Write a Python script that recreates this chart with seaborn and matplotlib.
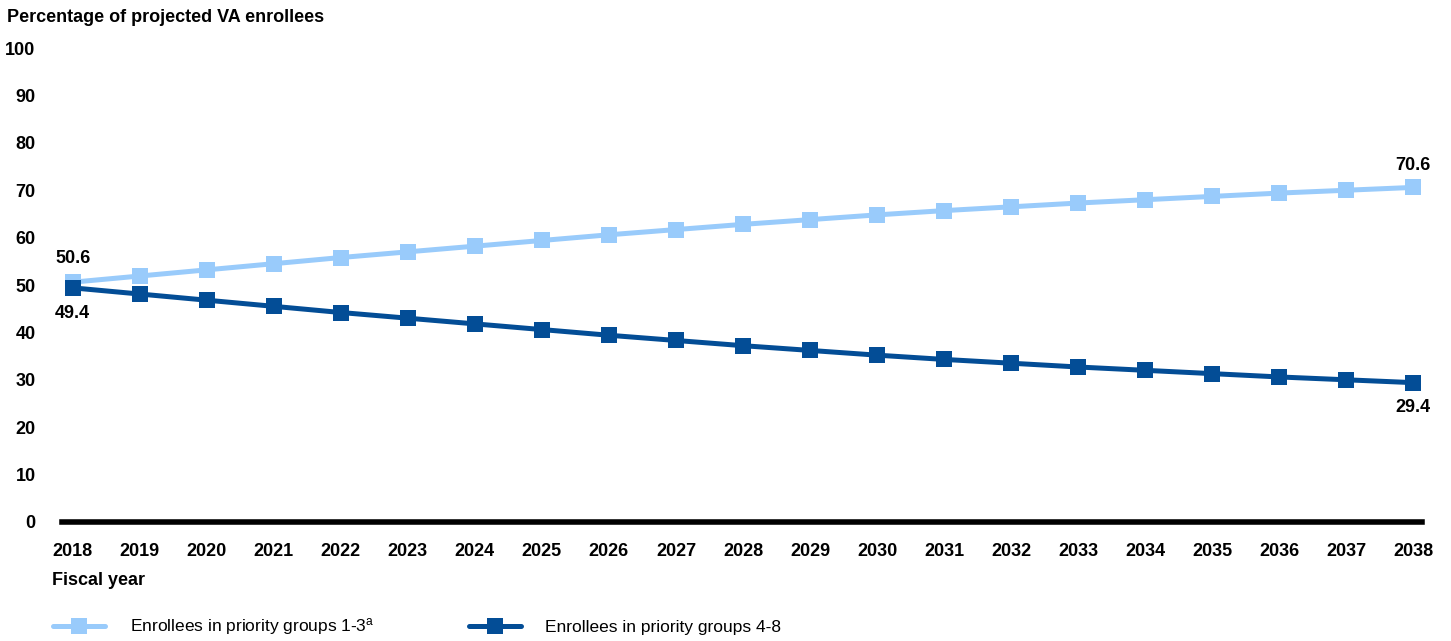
import pandas as pd
import matplotlib
matplotlib.use('Agg')
import matplotlib.pyplot as plt
import seaborn as sns
from matplotlib.lines import Line2D

# data
years = list(range(2018, 2039))
groups_1_3 = [50.6, 51.9, 53.2, 54.5, 55.8, 57.0, 58.2, 59.4, 60.6, 61.7, 62.8,
              63.8, 64.8, 65.7, 66.5, 67.3, 68.0, 68.7, 69.4, 70.0, 70.6]
groups_4_8 = [49.4, 48.1, 46.8, 45.5, 44.2, 43.0, 41.8, 40.6, 39.4, 38.3, 37.2,
              36.2, 35.2, 34.3, 33.5, 32.7, 32.0, 31.3, 30.6, 30.0, 29.4]
series_labels = ['Enrollees in priority groups 1-3$^{a}$', 'Enrollees in priority groups 4-8']
y_ticks = [0, 10, 20, 30, 40, 50, 60, 70, 80, 90, 100]

light_blue = '#99CBFB'
dark_blue = '#034D96'

df = pd.concat([
    pd.DataFrame({'year': years, 'pct': groups_1_3, 'group': series_labels[0]}),
    pd.DataFrame({'year': years, 'pct': groups_4_8, 'group': series_labels[1]}),
])

sns.set_style('white')
plt.rcParams['font.family'] = ['Liberation Sans', 'DejaVu Sans']
plt.rcParams['mathtext.default'] = 'regular'
plt.rcParams['text.color'] = 'black'
plt.rcParams['xtick.color'] = 'black'
plt.rcParams['ytick.color'] = 'black'

fig = plt.figure(figsize=(14.51, 6.41), dpi=100)
ax = fig.add_axes([0.0427, 0.1857, 0.9373, 0.7393])

sns.lineplot(data=df, x='year', y='pct', hue='group', style='group',
             palette=[light_blue, dark_blue], markers=['s', 's'], dashes=False,
             markersize=11.5, linewidth=3.6, markeredgewidth=0,
             legend=False, ax=ax)

ax.set_xlim(2017.84, 2038.13)
ax.set_ylim(0, 100)
ax.set_xticks(years)
ax.set_yticks(y_ticks)
ax.set_xlabel('')
ax.set_ylabel('')

for side in ['top', 'right', 'left']:
    ax.spines[side].set_visible(False)
ax.spines['bottom'].set_linewidth(4)
ax.spines['bottom'].set_color('black')
ax.tick_params(axis='both', length=0, labelsize=13)
ax.tick_params(axis='y', pad=19)
ax.tick_params(axis='x', pad=15)
for lab in ax.get_xticklabels() + ax.get_yticklabels():
    lab.set_fontweight('bold')

# end point labels
ax.annotate(f'{groups_1_3[0]}', (years[0], groups_1_3[0]), xytext=(0, 11),
            textcoords='offset points', ha='center', va='bottom',
            fontsize=13, fontweight='bold')
ax.annotate(f'{groups_4_8[0]}', (years[0], groups_4_8[0]), xytext=(0, -12),
            textcoords='offset points', ha='center', va='top',
            fontsize=13, fontweight='bold')
ax.annotate(f'{groups_1_3[-1]}', (years[-1], groups_1_3[-1]), xytext=(0, 10),
            textcoords='offset points', ha='center', va='bottom',
            fontsize=13, fontweight='bold')
ax.annotate(f'{groups_4_8[-1]}', (years[-1], groups_4_8[-1]), xytext=(0, -12),
            textcoords='offset points', ha='center', va='top',
            fontsize=13, fontweight='bold')

fig.text(0.005, 0.973, 'Percentage of projected VA enrollees', ha='left', va='center',
         fontsize=13, fontweight='bold')
fig.text(0.036, 0.095, 'Fiscal year', ha='left', va='center',
         fontsize=13, fontweight='bold')

handles = [
    Line2D([0], [0], color=light_blue, lw=3.6, marker='s', markersize=11.5, markeredgewidth=0),
    Line2D([0], [0], color=dark_blue, lw=3.6, marker='s', markersize=11.5, markeredgewidth=0),
]
fig.legend(handles, series_labels, loc='center left', bbox_to_anchor=(0.026, 0.022),
           ncol=2, frameon=False, fontsize=12.5, handlelength=3.0, handletextpad=1.4,
           columnspacing=5.45)

fig.savefig('out.png', dpi=100)
